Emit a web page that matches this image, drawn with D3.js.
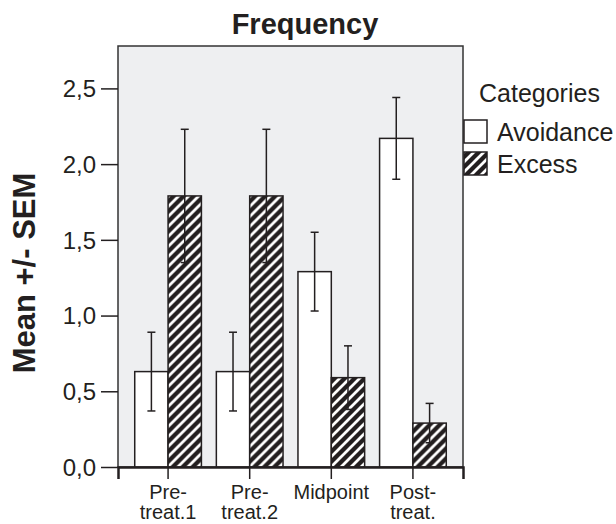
<!DOCTYPE html>
<meta charset="utf-8">
<style>
body { margin: 0; background: #fff; }
text { font-family: "Liberation Sans", Arial, sans-serif; fill: #231f20; }
.tick line { stroke: #231f20; stroke-width: 1.5px; }
</style>
<body>
<svg id="chart"></svg>
<script src="https://d3js.org/d3.v7.min.js"></script>
<script>

var categories = ["Pre-treat.1", "Pre-treat.2", "Midpoint", "Post-treat."];
var categoryLines = [["Pre-", "treat.1"], ["Pre-", "treat.2"], ["Midpoint"], ["Post-", "treat."]];
var seriesNames = ["Avoidance", "Excess"];
var avoidance = [0.63, 0.63, 1.29, 2.17];
var avoidanceSem = [0.26, 0.26, 0.26, 0.27];
var excess = [1.79, 1.79, 0.59, 0.29];
var excessSem = [0.44, 0.44, 0.21, 0.13];
var yTicks = [0, 0.5, 1.0, 1.5, 2.0, 2.5];

var width = 616,
    height = 524;

var svg = d3.select("#chart")
    .attr("width", width)
    .attr("height", height);

// hatch for the Excess series
var defs = svg.append("defs");
var pat = defs.append("pattern")
    .attr("id", "hatch")
    .attr("patternUnits", "userSpaceOnUse")
    .attr("width", 10)
    .attr("height", 10);
pat.append("rect").attr("width", 10).attr("height", 10).attr("fill", "#231f20");
pat.append("path")
    .attr("d", "M-5,5 L5,-5 M0,10 L10,0 M5,15 L15,5")
    .attr("stroke", "#fff")
    .attr("stroke-width", 2.8);

var x0 = d3.scaleBand()
    .domain(categories)
    .range([118, 463])
    .paddingInner(0.183)
    .paddingOuter(0.205);

var x1 = d3.scaleBand()
    .domain(seriesNames)
    .range([0, x0.bandwidth()]);

var y = d3.scaleLinear()
    .domain([0, 2.78])
    .range([467, 46]);

// plot background
svg.append("rect")
    .attr("x", x0.range()[0])
    .attr("y", y.range()[1])
    .attr("width", x0.range()[1] - x0.range()[0])
    .attr("height", y.range()[0] - y.range()[1])
    .attr("fill", "#eeeff1")
    .attr("stroke", "#333")
    .attr("stroke-width", 1.5);

var rows = categories.map(function(c, i) {
  return [
    {cat: c, s: "Avoidance", v: avoidance[i], e: avoidanceSem[i]},
    {cat: c, s: "Excess", v: excess[i], e: excessSem[i]}
  ];
});

var groups = svg.append("g").selectAll("g")
  .data(rows)
  .enter().append("g")
    .attr("transform", function(d) { return "translate(" + x0(d[0].cat) + ",0)"; });

groups.selectAll("rect")
  .data(function(d) { return d; })
  .enter().append("rect")
    .attr("x", function(d) { return x1(d.s); })
    .attr("y", function(d) { return y(d.v); })
    .attr("width", x1.bandwidth())
    .attr("height", function(d) { return y(0) - y(d.v); })
    .attr("fill", function(d) { return d.s == "Excess" ? "url(#hatch)" : "#fff"; })
    .attr("stroke", "#231f20")
    .attr("stroke-width", 1.5);

// error bars
var eb = groups.selectAll("g.err")
  .data(function(d) { return d; })
  .enter().append("g")
    .attr("class", "err")
    .attr("stroke", "#231f20")
    .attr("stroke-width", 1.5);

eb.append("line")
    .attr("x1", function(d) { return x1(d.s) + x1.bandwidth() / 2; })
    .attr("x2", function(d) { return x1(d.s) + x1.bandwidth() / 2; })
    .attr("y1", function(d) { return y(d.v - d.e); })
    .attr("y2", function(d) { return y(d.v + d.e); });

[1, -1].forEach(function(sign) {
  eb.append("line")
      .attr("x1", function(d) { return x1(d.s) + x1.bandwidth() / 2 - 4; })
      .attr("x2", function(d) { return x1(d.s) + x1.bandwidth() / 2 + 4; })
      .attr("y1", function(d) { return y(d.v + sign * d.e); })
      .attr("y2", function(d) { return y(d.v + sign * d.e); });
});

// y axis
var yAxis = svg.append("g")
    .attr("transform", "translate(" + x0.range()[0] + ",0)")
    .call(d3.axisLeft(y)
      .tickValues(yTicks)
      .tickSize(17)
      .tickPadding(5)
      .tickFormat(function(d) { return d3.format(".1f")(d).replace(".", ","); }));
yAxis.select(".domain").remove();
yAxis.selectAll("text").style("font-size", "24px").attr("dy", "0.35em");

// x axis
var xAxis = svg.append("g")
    .attr("transform", "translate(0," + y(0) + ")")
    .call(d3.axisBottom(x0).tickSize(12).tickFormat(""));
xAxis.select(".domain")
    .attr("stroke", "#231f20")
    .attr("stroke-width", 2.5);

svg.append("g").selectAll("text")
  .data(categories)
  .enter().append("text")
    .attr("x", function(d) { return x0(d) + x0.bandwidth() / 2; })
    .attr("y", 499)
    .attr("text-anchor", "middle")
    .style("font-size", "20px")
    .each(function(d, i) {
      var t = d3.select(this);
      categoryLines[i].forEach(function(line, j) {
        t.append("tspan")
            .attr("x", x0(d) + x0.bandwidth() / 2)
            .attr("dy", j == 0 ? 0 : 20)
            .text(line);
      });
    });

// title and axis label
svg.append("text")
    .attr("x", 305)
    .attr("y", 34)
    .attr("text-anchor", "middle")
    .style("font-size", "29px")
    .style("font-weight", "bold")
    .text("Frequency");

svg.append("text")
    .attr("transform", "translate(35,273)rotate(-90)")
    .attr("text-anchor", "middle")
    .style("font-size", "31px")
    .style("font-weight", "bold")
    .text("Mean +/- SEM");

// legend
var legend = svg.append("g");
legend.append("text")
    .attr("x", 479)
    .attr("y", 102)
    .style("font-size", "25px")
    .text("Categories");

var li = legend.selectAll("g")
  .data(seriesNames)
  .enter().append("g")
    .attr("transform", function(d, i) { return "translate(464," + (120 + i * 32) + ")"; });

li.append("rect")
    .attr("width", 23)
    .attr("height", 23)
    .attr("fill", function(d) { return d == "Excess" ? "url(#hatch)" : "#fff"; })
    .attr("stroke", "#231f20")
    .attr("stroke-width", 1.5);

li.append("text")
    .attr("x", 33)
    .attr("y", 21)
    .style("font-size", "25px")
    .text(function(d) { return d; });

</script>
